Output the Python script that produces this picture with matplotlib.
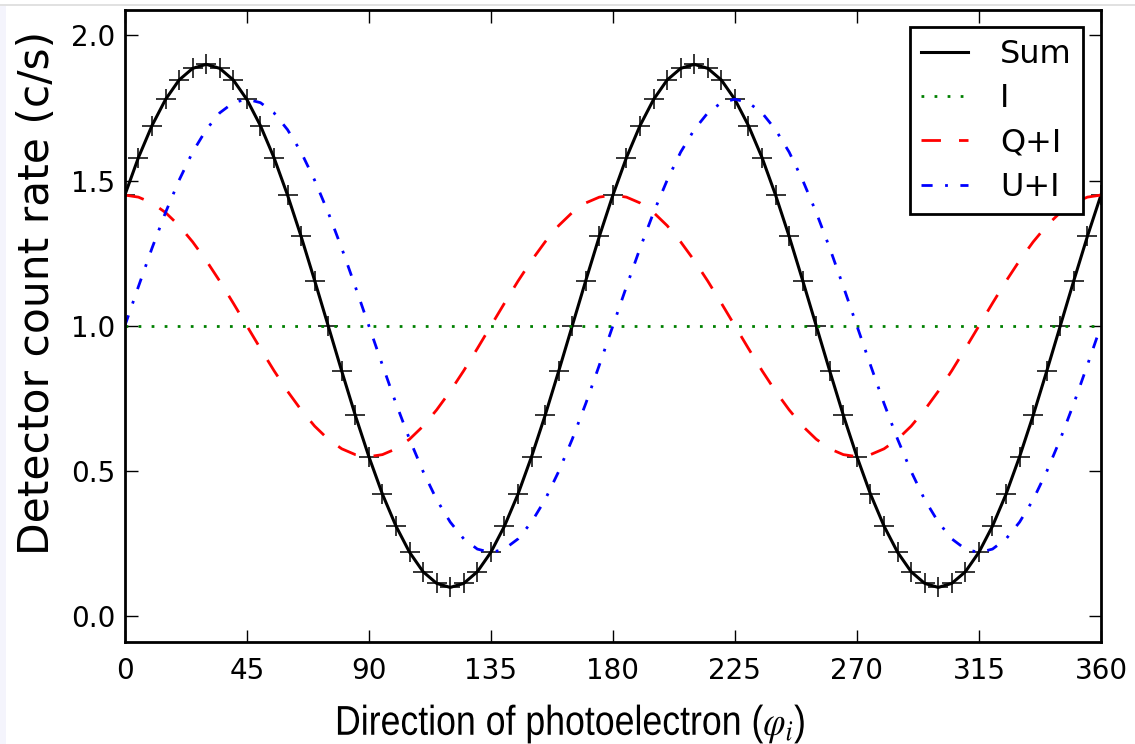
import matplotlib
matplotlib.use("Agg")
import matplotlib.pyplot as plt
import numpy as np
from matplotlib.lines import Line2D
from matplotlib.patheffects import AbstractPathEffect
from matplotlib.transforms import Affine2D

"""
Detector count rate versus photoelectron direction for the Stokes components
"""

# photoelectron direction, degrees
phi = np.arange(0, 361, 5)

# I alone is flat
i_phi = [0, 360]
i_rate = [1.0, 1.0]

sum_rate = [1.450, 1.579, 1.689, 1.779, 1.846, 1.886, 1.900, 1.886, 1.846, 1.779,
            1.689, 1.579, 1.450, 1.308, 1.156, 1.000, 0.844, 0.692, 0.550, 0.421,
            0.311, 0.221, 0.154, 0.114, 0.100, 0.114, 0.154, 0.221, 0.311, 0.421,
            0.550, 0.692, 0.844, 1.000, 1.156, 1.308, 1.450,
            1.579, 1.689, 1.779, 1.846, 1.886, 1.900, 1.886, 1.846, 1.779,
            1.689, 1.579, 1.450, 1.308, 1.156, 1.000, 0.844, 0.692, 0.550, 0.421,
            0.311, 0.221, 0.154, 0.114, 0.100, 0.114, 0.154, 0.221, 0.311, 0.421,
            0.550, 0.692, 0.844, 1.000, 1.156, 1.308, 1.450]

qi_rate = [1.450, 1.443, 1.423, 1.390, 1.345, 1.289, 1.225, 1.154, 1.078, 1.000,
           0.922, 0.846, 0.775, 0.711, 0.655, 0.610, 0.577, 0.557, 0.550, 0.557,
           0.577, 0.610, 0.655, 0.711, 0.775, 0.846, 0.922, 1.000, 1.078, 1.154,
           1.225, 1.289, 1.345, 1.390, 1.423, 1.443, 1.450,
           1.443, 1.423, 1.390, 1.345, 1.289, 1.225, 1.154, 1.078, 1.000,
           0.922, 0.846, 0.775, 0.711, 0.655, 0.610, 0.577, 0.557, 0.550, 0.557,
           0.577, 0.610, 0.655, 0.711, 0.775, 0.846, 0.922, 1.000, 1.078, 1.154,
           1.225, 1.289, 1.345, 1.390, 1.423, 1.443, 1.450]

ui_rate = [1.000, 1.135, 1.267, 1.390, 1.501, 1.598, 1.675, 1.733, 1.768, 1.780,
           1.768, 1.733, 1.675, 1.598, 1.501, 1.390, 1.267, 1.135, 1.000, 0.865,
           0.733, 0.610, 0.499, 0.402, 0.325, 0.267, 0.232, 0.220, 0.232, 0.267,
           0.325, 0.402, 0.499, 0.610, 0.733, 0.865, 1.000,
           1.135, 1.267, 1.390, 1.501, 1.598, 1.675, 1.733, 1.768, 1.780,
           1.768, 1.733, 1.675, 1.598, 1.501, 1.390, 1.267, 1.135, 1.000, 0.865,
           0.733, 0.610, 0.499, 0.402, 0.325, 0.267, 0.232, 0.220, 0.232, 0.267,
           0.325, 0.402, 0.499, 0.610, 0.733, 0.865, 1.000]

labels = ['Sum', 'I', 'Q+I', 'U+I']
x_ticks = [0, 45, 90, 135, 180, 225, 270, 315, 360]
y_ticks = [0.0, 0.5, 1.0, 1.5, 2.0]

DOTTED = (0, (1, 3.7))
DASHED = (0, (7, 6.5))
DASHDOT = (0, (4, 4.5, 1, 4.5))


class SqueezeX(AbstractPathEffect):
    """Squeeze drawn text horizontally about a fixed x (pixels)."""

    def __init__(self, sx, cx):
        super().__init__()
        self.sx = sx
        self.cx = cx

    def draw_path(self, renderer, gc, tpath, affine, rgbFace=None):
        squeeze = Affine2D().translate(-self.cx, 0).scale(self.sx, 1).translate(self.cx, 0)
        renderer.draw_path(gc, tpath, affine + squeeze, rgbFace)


plt.rcParams['mathtext.fontset'] = 'stix'

W, H = 1135, 744
fig = plt.figure(figsize=(W / 100, H / 100), dpi=100)
ax = fig.add_axes([0.110, 0.137, 0.860, 0.850])

ax.plot(phi, sum_rate, color='k', lw=2.2, marker='+', markersize=15,
        markeredgewidth=1.1, label='Sum')
ax.plot(i_phi, i_rate, color='g', lw=2, linestyle=DOTTED, label='I')
ax.plot(phi, qi_rate, color='r', lw=2, linestyle=DASHED, label='Q+I')
ax.plot(phi, ui_rate, color='b', lw=2, linestyle=DASHDOT, label='U+I')

ax.set_xlim(0, 360)
ax.set_ylim(-0.088, 2.088)
ax.set_xticks(x_ticks)
ax.set_yticks(y_ticks)
ax.set_yticklabels(['%.1f' % v for v in y_ticks])

for s in ax.spines.values():
    s.set_linewidth(2)
ax.tick_params(direction='in', length=9, width=1, top=True, right=True,
               labelsize=20)
ax.tick_params(axis='x', pad=11)
ax.tick_params(axis='y', pad=7)

# axis titles placed in figure pixels
fig.text(37 / W, 1 - 293 / H, 'Detector count rate (c/s)', fontsize=30.5,
         rotation=90, ha='center', va='center')
xcen = 570
xlab = fig.text(xcen / W, 9 / H, r'Direction of photoelectron ($\varphi_i$)',
                fontsize=30, family=['Liberation Sans', 'DejaVu Sans'],
                ha='center', va='baseline')
fig.canvas.draw()
xlab_width = xlab.get_window_extent().width
xlab.set_path_effects([SqueezeX(470 / xlab_width, xcen)])

# legend with the plain line handles only
handles = [Line2D([], [], color='k', lw=2.2),
           Line2D([], [], color='g', lw=2, linestyle=DOTTED),
           Line2D([], [], color='r', lw=2, linestyle=DASHED),
           Line2D([], [], color='b', lw=2, linestyle=DASHDOT)]
leg = ax.legend(handles, labels, loc='upper right',
                fontsize=23, fancybox=False, framealpha=1, edgecolor='k',
                handlelength=1.47, handletextpad=1.0, labelspacing=0.42,
                borderpad=0.36, borderaxespad=0.55)
leg.get_frame().set_linewidth(2)

# faint border strips along the top and left edges
fig.add_artist(Line2D([0, 1], [1 - 5 / H, 1 - 5 / H], color='#dcdcdc', lw=1.2))
fig.add_artist(plt.Rectangle((0, 0), 6 / W, 1 - 6 / H, color='#f4f4fc',
                             lw=0, transform=fig.transFigure))

fig.savefig('out.png', dpi=100)
